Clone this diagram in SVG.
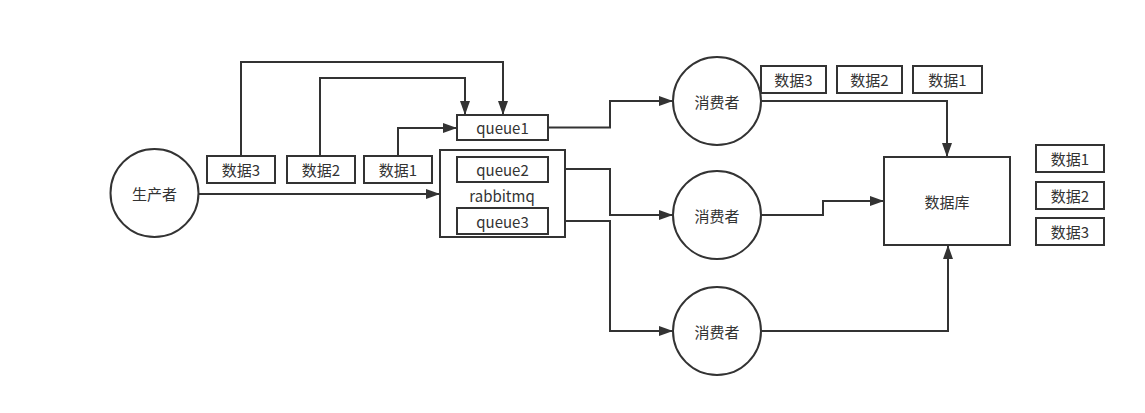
<svg xmlns="http://www.w3.org/2000/svg" width="1145" height="413" viewBox="0 0 1145 413">
<style>
.s{fill:#fff;stroke:#333;stroke-width:2}
.t{font-family:"Noto Sans CJK SC","Noto Sans",sans-serif;font-size:15px;fill:#333;text-anchor:middle;dominant-baseline:central}
.c{fill:none;stroke:#333;stroke-width:2}
</style>
<defs>
<marker id="a" viewBox="0 0 14 10" refX="14" refY="5" markerWidth="14" markerHeight="10" markerUnits="userSpaceOnUse" orient="auto">
<path d="M0,0 L14,5 L0,10 Z" fill="#333"/>
</marker>
</defs>
<rect width="1145" height="413" fill="#fff"/>
<g id="connectors">
<path class="c" d="M241,156 V62 H503 V115" marker-end="url(#a)"/>
<path class="c" d="M320,156 V78 H465 V115" marker-end="url(#a)"/>
<path class="c" d="M398,156 V128 H457" marker-end="url(#a)"/>
<path class="c" d="M199,194 H440" marker-end="url(#a)"/>
<path class="c" d="M548,127.5 H610 V101 H673" marker-end="url(#a)"/>
<path class="c" d="M548,169 H610 V215 H673" marker-end="url(#a)"/>
<path class="c" d="M548,221 H610 V331 H673" marker-end="url(#a)"/>
<path class="c" d="M761,101 H947 V157" marker-end="url(#a)"/>
<path class="c" d="M761,215 H823 V201 H884" marker-end="url(#a)"/>
<path class="c" d="M761,331 H948 V245" marker-end="url(#a)"/>
</g>
<g id="producer"><circle class="s" cx="154.5" cy="193" r="44"/><text class="t" x="154.5" y="193">生产者</text></g>
<g id="p-data3"><rect class="s" x="207" y="156" width="68" height="27"/><text class="t" x="241" y="169.5">数据3</text></g>
<g id="p-data2"><rect class="s" x="287" y="156" width="68" height="27"/><text class="t" x="321" y="169.5">数据2</text></g>
<g id="p-data1"><rect class="s" x="364" y="156" width="68" height="27"/><text class="t" x="398" y="169.5">数据1</text></g>
<g id="queue1"><rect class="s" x="457" y="115" width="91" height="25"/><text class="t" x="502.5" y="127.5">queue1</text></g>
<g id="rabbitmq"><rect class="s" x="440" y="150" width="125" height="87"/><text class="t" x="502" y="195">rabbitmq</text></g>
<g id="queue2"><rect class="s" x="457" y="157" width="91" height="25"/><text class="t" x="502.5" y="169.5">queue2</text></g>
<g id="queue3"><rect class="s" x="457" y="208" width="91" height="26"/><text class="t" x="502.5" y="221">queue3</text></g>
<g id="consumer1"><circle class="s" cx="717" cy="101" r="44"/><text class="t" x="717" y="101">消费者</text></g>
<g id="consumer2"><circle class="s" cx="717" cy="215" r="44"/><text class="t" x="717" y="215">消费者</text></g>
<g id="consumer3"><circle class="s" cx="717" cy="331" r="44"/><text class="t" x="717" y="331">消费者</text></g>
<g id="c-data3"><rect class="s" x="761" y="66" width="65" height="27"/><text class="t" x="793.5" y="79.5">数据3</text></g>
<g id="c-data2"><rect class="s" x="837" y="66" width="65" height="27"/><text class="t" x="869.5" y="79.5">数据2</text></g>
<g id="c-data1"><rect class="s" x="913" y="66" width="69" height="27"/><text class="t" x="947.5" y="79.5">数据1</text></g>
<g id="database"><rect class="s" x="884" y="157" width="126" height="88"/><text class="t" x="947" y="201">数据库</text></g>
<g id="d-data1"><rect class="s" x="1036" y="145" width="68" height="27"/><text class="t" x="1070" y="158.5">数据1</text></g>
<g id="d-data2"><rect class="s" x="1036" y="182" width="68" height="27"/><text class="t" x="1070" y="195.5">数据2</text></g>
<g id="d-data3"><rect class="s" x="1036" y="218" width="68" height="27"/><text class="t" x="1070" y="231.5">数据3</text></g>
</svg>
